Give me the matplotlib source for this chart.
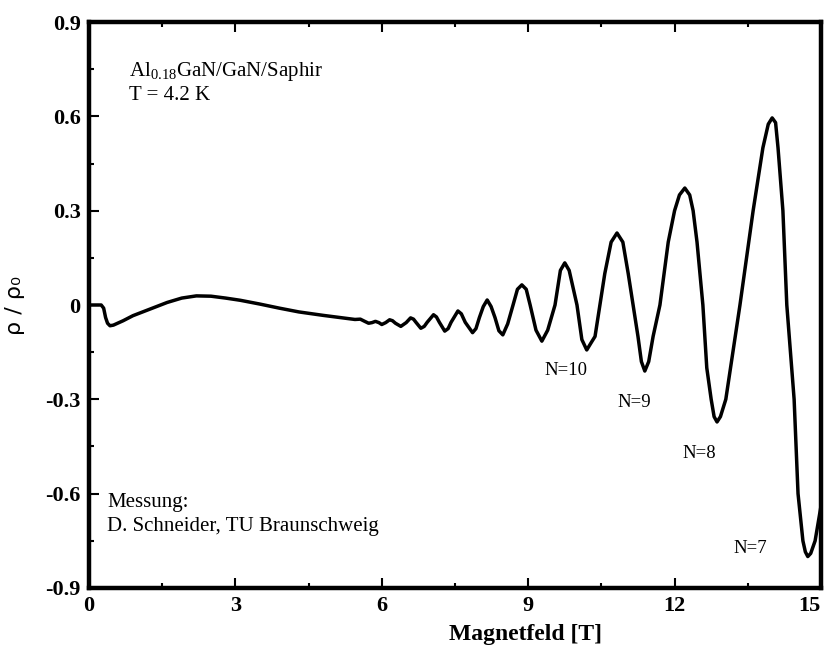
import matplotlib
matplotlib.use('Agg')
import matplotlib.pyplot as plt
from matplotlib.ticker import MultipleLocator

plt.rcParams['font.family'] = ['Liberation Serif', 'DejaVu Serif']
plt.rcParams['mathtext.fontset'] = 'custom'
plt.rcParams['mathtext.rm'] = 'Liberation Serif'
plt.rcParams['axes.unicode_minus'] = False

# Magnetfeld [T] and rho/rho0
field = [0.0, 0.25, 0.30, 0.34, 0.38, 0.43, 0.50, 0.70, 0.90, 1.20,
         1.60, 1.90, 2.20, 2.50, 2.80, 3.10, 3.50, 3.90, 4.30, 4.80,
         5.20, 5.45, 5.56, 5.65, 5.73, 5.80, 5.87, 5.94, 6.00, 6.08,
         6.16, 6.22, 6.28, 6.39, 6.50, 6.59, 6.65, 6.70, 6.80, 6.87,
         6.93, 7.06, 7.12, 7.18, 7.29, 7.36, 7.42, 7.56, 7.63, 7.71,
         7.86, 7.93, 8.00, 8.08, 8.16, 8.24, 8.32, 8.40, 8.48, 8.58,
         8.69, 8.78, 8.87, 8.96, 9.04, 9.16, 9.28, 9.40, 9.55, 9.66,
         9.75, 9.84, 10.00, 10.10, 10.20, 10.29, 10.37, 10.47, 10.57, 10.70,
         10.82, 10.94, 11.05, 11.15, 11.25, 11.32, 11.39, 11.47, 11.56, 11.70,
         11.87, 12.00, 12.10, 12.21, 12.31, 12.38, 12.46, 12.58, 12.66, 12.75,
         12.81, 12.87, 12.94, 13.05, 13.34, 13.61, 13.81, 13.92, 14.00, 14.07,
         14.12, 14.22, 14.30, 14.45, 14.53, 14.63, 14.68, 14.73, 14.79, 14.88,
         15.00]
rho = [0.0, 0.0, -0.010, -0.040, -0.058, -0.066, -0.064, -0.050, -0.034, -0.016,
       0.008, 0.022, 0.029, 0.028, 0.022, 0.015, 0.003, -0.010, -0.022, -0.033,
       -0.041, -0.046, -0.045, -0.052, -0.058, -0.056, -0.052, -0.056, -0.062, -0.056,
       -0.047, -0.050, -0.058, -0.068, -0.056, -0.041, -0.045, -0.055, -0.074, -0.068,
       -0.055, -0.031, -0.038, -0.055, -0.083, -0.075, -0.055, -0.019, -0.028, -0.055,
       -0.088, -0.075, -0.040, -0.005, 0.016, -0.005, -0.040, -0.082, -0.095, -0.060,
       0.000, 0.050, 0.064, 0.050, 0.000, -0.080, -0.115, -0.080, 0.000, 0.110,
       0.134, 0.110, 0.000, -0.110, -0.143, -0.120, -0.100, 0.000, 0.100, 0.200,
       0.229, 0.200, 0.100, 0.000, -0.100, -0.180, -0.210, -0.180, -0.100, 0.000,
       0.200, 0.300, 0.350, 0.372, 0.350, 0.300, 0.200, 0.000, -0.200, -0.300,
       -0.355, -0.372, -0.355, -0.300, 0.000, 0.300, 0.500, 0.575, 0.595, 0.580,
       0.500, 0.300, 0.000, -0.300, -0.600, -0.750, -0.785, -0.800, -0.790, -0.750,
       -0.640]

xticks = [0, 3, 6, 9, 12, 15]
yticks = [-0.9, -0.6, -0.3, 0, 0.3, 0.6, 0.9]
ytick_labels = ['-0.9', '-0.6', '-0.3', '0', '0.3', '0.6', '0.9']

landau = ['N=10', 'N=9', 'N=8', 'N=7']
landau_x = [9.34, 10.82, 12.17, 13.2]
landau_y = [-0.207, -0.309, -0.471, -0.773]

fig = plt.figure(figsize=(8.28, 6.55), dpi=100)
ax = fig.add_axes([0.1075, 0.1023, 0.884, 0.8641])

ax.plot(field, rho, color='black', lw=2.5, solid_joinstyle='round')

ax.set_xlim(0, 15)
ax.set_ylim(-0.9, 0.9)

for s in ax.spines.values():
    s.set_linewidth(3.2)

ax.set_xticks(xticks)
ax.set_xticklabels([str(t) for t in xticks])
ax.set_yticks(yticks)
ax.set_yticklabels(ytick_labels)
ax.xaxis.set_minor_locator(MultipleLocator(1.5))
ax.yaxis.set_minor_locator(MultipleLocator(0.15))
ax.tick_params(which='both', direction='in', top=True, right=False, width=1.5)
ax.tick_params(which='major', length=7, labelsize=16, pad=6)
ax.tick_params(which='minor', length=3.5)
for lab in ax.get_xticklabels() + ax.get_yticklabels():
    lab.set_fontweight('bold')
# keep "15" inside the figure
ax.get_xticklabels()[-1].set_horizontalalignment('right')

ax.set_xlabel('Magnetfeld [T]', fontsize=17, fontweight='bold')
ax.xaxis.set_label_coords(0.596, -0.064)
ax.set_ylabel('ρ / ρ₀', fontsize=16, family=['DejaVu Sans'])
ax.yaxis.set_label_coords(-0.087, 0.5)

# sample info and credits
ax.text(0.82, 0.744, r'Al$_{0.18}$GaN/GaN/Saphir', fontsize=15, va='center')
ax.text(0.82, 0.665, 'T = 4.2 K', fontsize=15, va='center')
ax.text(0.37, -0.627, 'Messung:', fontsize=15, va='center')
ax.text(0.37, -0.706, 'D. Schneider, TU Braunschweig', fontsize=15, va='center')

for lbl, lx, ly in zip(landau, landau_x, landau_y):
    ax.text(lx, ly, lbl, fontsize=13.5, va='center')

fig.savefig('out.png', dpi=100)
